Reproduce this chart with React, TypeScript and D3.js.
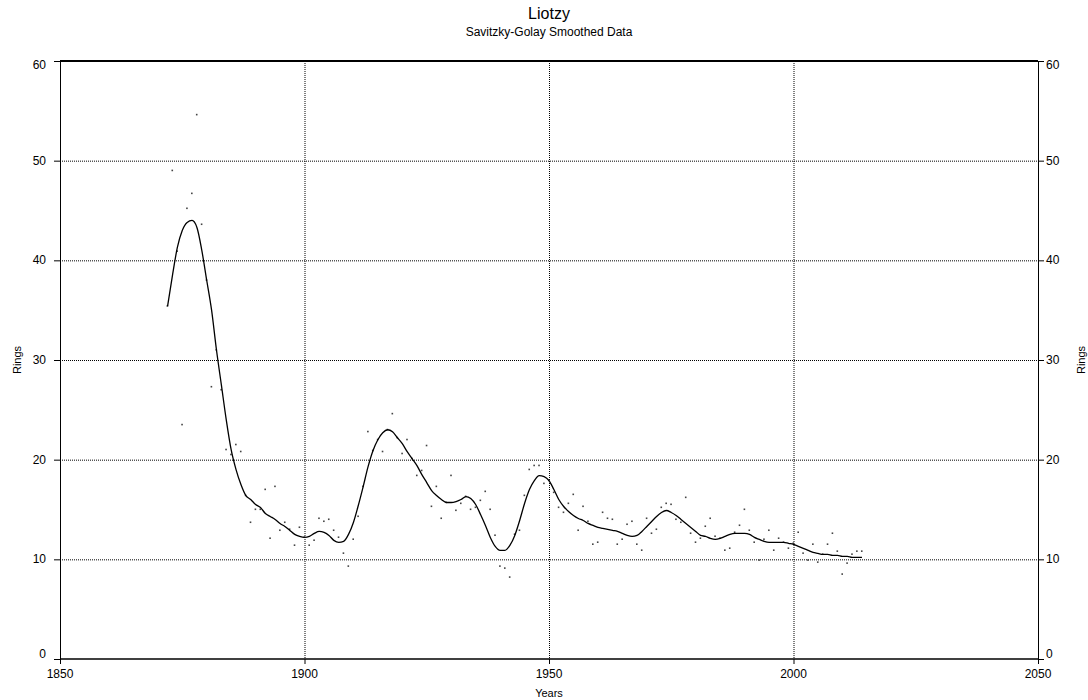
import * as d3 from 'd3';
import React from 'react';

// ring counts per year, first year 1872
const startYear = 1872;

const ringValues = [
  35.4, 49.0, 40.9, 23.5, 45.2, 46.7, 54.6, 43.6, 38.0, 27.3,
  31.0, 27.0, 21.0, 20.5, 21.5, 20.8, 16.4, 13.7, 15.0, 15.0,
  17.0, 12.1, 17.3, 12.9, 13.7, 13.0, 11.4, 13.2, 12.2, 11.4,
  11.9, 14.1, 13.8, 14.0, 12.9, 12.2, 10.6, 9.3, 12.0, 14.3,
  17.3, 22.8, 20.9, 22.0, 20.8, 23.0, 24.6, 22.2, 20.6, 22.0,
  20.1, 18.4, 18.9, 21.4, 15.3, 17.3, 14.1, 15.7, 18.4, 14.9,
  15.6, 16.3, 15.0, 15.2, 15.9, 16.8, 15.0, 12.4, 9.3, 9.1,
  8.2, 12.5, 12.9, 16.4, 19.0, 19.4, 19.4, 17.6, 17.9, 16.7,
  15.2, 14.7, 15.6, 16.5, 12.9, 15.3, 13.8, 11.5, 11.7, 14.7,
  14.1, 14.0, 11.5, 12.0, 13.5, 13.8, 11.5, 10.9, 14.1, 12.6,
  13.0, 15.2, 15.6, 15.5, 14.0, 13.7, 16.2, 12.6, 11.7, 12.1,
  13.3, 14.1, 12.3, 12.1, 10.9, 11.1, 12.7, 13.4, 15.0, 12.9,
  11.7, 9.9, 12.0, 12.9, 10.9, 12.1, 11.7, 11.1, 11.6, 12.7,
  10.6, 9.9, 11.5, 9.7, 10.5, 11.5, 12.6, 10.8, 8.5, 9.6,
  10.5, 10.8, 10.8,
];

// smoothed curve, same years
const smoothValues = [
  35.4, 38.5, 41.3, 43.0, 43.8, 44.0, 43.3, 41.0, 38.0, 35.0,
  31.0, 27.5, 24.0, 21.0, 19.0, 17.5, 16.4, 16.0, 15.5, 15.2,
  14.6, 14.3, 14.0, 13.6, 13.3, 12.9, 12.5, 12.3, 12.2, 12.3,
  12.6, 12.8, 12.7, 12.4, 11.9, 11.7, 11.8, 12.5, 13.7, 15.4,
  17.3, 19.3, 20.9, 22.0, 22.7, 23.0, 22.8, 22.2, 21.6, 20.8,
  20.1, 19.4, 18.5, 17.7, 16.9, 16.4, 16.0, 15.7, 15.7, 15.8,
  16.0, 16.3, 16.1, 15.5, 14.5, 13.4, 12.2, 11.3, 10.9, 10.9,
  11.4, 12.4, 13.9, 15.6, 17.0, 17.9, 18.4, 18.3, 17.9, 17.0,
  16.0, 15.3, 14.8, 14.4, 14.1, 13.9, 13.6, 13.4, 13.2, 13.1,
  13.0, 12.9, 12.8, 12.6, 12.4, 12.3, 12.4, 12.8, 13.3, 13.8,
  14.3, 14.7, 14.9, 14.7, 14.4, 14.0, 13.6, 13.2, 12.8, 12.4,
  12.3, 12.1, 12.0, 12.1, 12.3, 12.5, 12.6, 12.6, 12.6, 12.5,
  12.2, 12.0, 11.8, 11.7, 11.7, 11.7, 11.7, 11.6, 11.5, 11.3,
  11.1, 10.9, 10.7, 10.6, 10.5, 10.5, 10.4, 10.4, 10.3, 10.3,
  10.2, 10.2, 10.2,
];

const xTicks = [1850, 1900, 1950, 2000, 2050];
const yTicks = [0, 10, 20, 30, 40, 50, 60];

const font = '"Liberation Sans", Arial, sans-serif';

export default function App() {
  // plot box
  const margin = { top: 61, right: 50, bottom: 41, left: 60 };
  const width = 1088;
  const height = 700;
  const x0 = margin.left;
  const x1 = width - margin.right;
  const y0 = height - margin.bottom;
  const y1 = margin.top;

  const x = d3.scaleLinear().domain([1850, 2050]).range([x0, x1]);
  const y = d3.scaleLinear().domain([0, 60]).range([y0, y1]);

  const points = ringValues.map((v, i) => ({ year: startYear + i, value: v }));
  const smooth = smoothValues.map((v, i) => ({ year: startYear + i, value: v }));

  const line = d3
    .line<{ year: number; value: number }>()
    .x(d => x(d.year))
    .y(d => y(d.value))
    .curve(d3.curveMonotoneX);

  return (
    <svg
      width={width}
      height={height}
      style={{ position: 'absolute', left: 0, top: 0, background: '#fff' }}
      fontFamily={font}
    >
      {/* grid */}
      {yTicks.filter(t => t > 0 && t < 60).map(t => (
        <line key={'gy' + t} x1={x0} x2={x1} y1={y(t) + 0.5} y2={y(t) + 0.5}
          stroke="#000" strokeDasharray="1,1" />
      ))}
      {xTicks.filter(t => t > 1850 && t < 2050).map(t => (
        <line key={'gx' + t} x1={x(t) + 0.5} x2={x(t) + 0.5} y1={y1} y2={y0}
          stroke="#000" strokeDasharray="1,1" />
      ))}

      {/* frame */}
      <line x1={x0} x2={x1} y1={y1} y2={y1} stroke="#000" strokeWidth={2} />
      <line x1={x0} x2={x1} y1={y0} y2={y0} stroke="#000" strokeWidth={1.5} />
      <line x1={x0 + 0.5} x2={x0 + 0.5} y1={y1} y2={y0} stroke="#000" />
      <line x1={x1 + 0.5} x2={x1 + 0.5} y1={y1} y2={y0} stroke="#000" />

      {/* y ticks, both sides */}
      {yTicks.map(t => (
        <g key={'yt' + t}>
          <line x1={x0 - 6} x2={x0} y1={y(t) + 0.5} y2={y(t) + 0.5} stroke="#000" />
          <line x1={x1} x2={x1 + 6} y1={y(t) + 0.5} y2={y(t) + 0.5} stroke="#000" />
          <text x={x0 - 14} y={y(t) + (t === 0 ? -1 : t === 60 ? 8 : 4)} textAnchor="end"
            fontSize={12} fill="#000">{t}</text>
          <text x={x1 + 8} y={y(t) + (t === 0 ? -1 : t === 60 ? 8 : 4)} textAnchor="start"
            fontSize={12} fill="#000">{t}</text>
        </g>
      ))}

      {/* x ticks */}
      {xTicks.map(t => (
        <g key={'xt' + t}>
          <line x1={x(t) + 0.5} x2={x(t) + 0.5} y1={y0} y2={y0 + 5} stroke="#000" />
          <text x={x(t)} y={y0 + 19} textAnchor="middle" fontSize={12} fill="#000">{t}</text>
        </g>
      ))}

      {/* axis titles */}
      <text x={x0 + (x1 - x0) / 2} y={697} textAnchor="middle" fontSize={11} fill="#000">Years</text>
      <text transform={`translate(21,${y(30)}) rotate(-90)`} textAnchor="middle" fontSize={11} fill="#000">Rings</text>
      <text transform={`translate(${x1 + 47},${y(30)}) rotate(-90)`} textAnchor="middle" fontSize={11} fill="#000">Rings</text>

      {/* titles */}
      <text x={x0 + (x1 - x0) / 2} y={19} textAnchor="middle" fontSize={16} fill="#000">Liotzy</text>
      <text x={x0 + (x1 - x0) / 2} y={36} textAnchor="middle" fontSize={12} fill="#000">Savitzky-Golay Smoothed Data</text>

      {/* raw ring counts */}
      {points.map(d => (
        <rect key={'p' + d.year} x={x(d.year) - 1} y={y(d.value) - 1} width={1.6} height={1.6} fill="#444" />
      ))}

      {/* smoothed line */}
      <path d={line(smooth) || ''} fill="none" stroke="#000" strokeWidth={1.3} />
    </svg>
  );
}
